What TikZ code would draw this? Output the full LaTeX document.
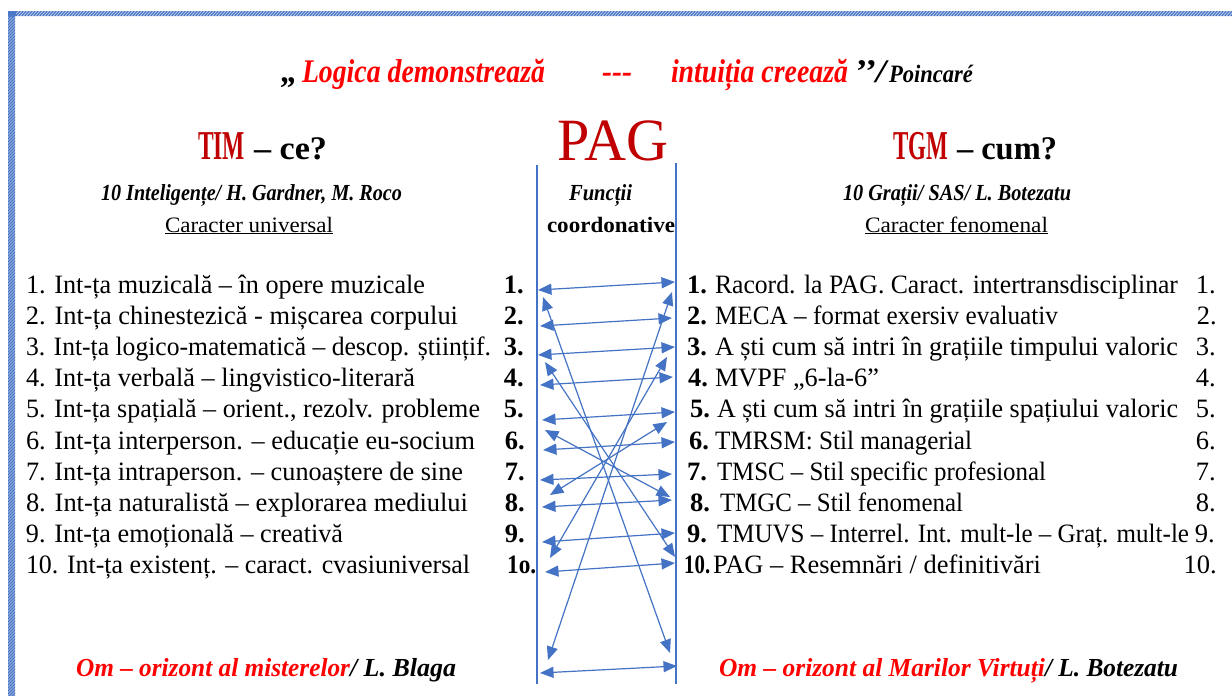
\documentclass[tikz,border=0pt]{standalone}
\usepackage{fontspec}
\setmainfont{Liberation Serif}
\usepackage{graphicx}
\usetikzlibrary{arrows.meta}

\definecolor{lineblue}{HTML}{4472C4}
\definecolor{quotered}{HTML}{FF0000}
\definecolor{headred}{HTML}{C00000}

% squeeze or stretch a text horizontally to a given width
\newcommand{\dgFit}[2]{\resizebox{#1}{\height}{#2}}

\newcommand{\dgItem}{\fontsize{26.5}{30}\selectfont}
\newcommand{\dgNum}{\fontsize{26.5}{30}\selectfont\bfseries}
\newcommand{\dgTitle}{\fontsize{33}{36}\selectfont\bfseries\itshape}
\newcommand{\dgHead}{\fontsize{41}{44}\selectfont\bfseries}
\newcommand{\dgHeadB}{\fontsize{33}{36}\selectfont\bfseries}
\newcommand{\dgSub}{\fontsize{23}{26}\selectfont\bfseries\itshape}
\newcommand{\dgCar}{\fontsize{22}{26}\selectfont}
\newcommand{\dgFoot}{\fontsize{26}{30}\selectfont\bfseries\itshape}

\begin{document}
\begin{tikzpicture}[x=1pt,y=-1pt,
  txt/.style={anchor=base west,inner sep=0pt,outer sep=0pt},
  item/.style={txt,font=\dgItem},
  lnum/.style={anchor=base east,inner sep=0pt,font=\dgNum},
  rnum/.style={anchor=base west,inner sep=0pt,font=\dgNum},
  tnum/.style={anchor=base east,inner sep=0pt,font=\dgItem},
  rail/.style={draw=lineblue,line width=2pt},
  link/.style={draw=lineblue,line width=1.2pt,
    {Triangle[length=13.5pt,width=11pt]}-{Triangle[length=13.5pt,width=11pt]}}]

\useasboundingbox (0,0) rectangle (1232,696);
\fill[white] (0,0) rectangle (1232,696);

% hatched page frame (top and left)
\begin{scope}
  \clip (8,11) rectangle (1232,16) (8,11) rectangle (15,696);
  \fill[lineblue!35] (8,11) rectangle (1232,16);
  \fill[lineblue!35] (8,11) rectangle (15,696);
  \foreach \i in {0,3,...,1236}
    \draw[lineblue,line width=1.1pt] (\i,17) -- (\i+6,10);
  \foreach \j in {8,11,...,700}
    \draw[lineblue,line width=1.1pt] (7,\j+6) -- (16,\j-3);
\end{scope}

% motto
\node[txt,font=\dgTitle] (q1) at (281,82) {„};
\node[txt,font=\dgTitle,text=quotered] (q2) at (302,82) {\dgFit{243pt}{Logica demonstrează}};
\node[txt,font=\dgTitle,text=quotered] (q3) at (602,82) {\dgFit{30pt}{-{}-{}-}};
\node[txt,font=\dgTitle,text=quotered] (q4) at (671,82) {\dgFit{177pt}{intuiția creează}};
\node[txt,font=\dgTitle] (q5) at (854,82) {\dgFit{32pt}{’’/}};
\node[txt,font=\fontsize{25}{30}\selectfont\bfseries\itshape] (q6) at (889,82) {\dgFit{84pt}{Poincaré}};

% column headings
\node[txt,font=\dgHead,text=headred] (tim) at (198,159) {\dgFit{47pt}{TIM}};
\node[txt,font=\dgHeadB] (timq) at (254,159) {\dgFit{73pt}{– ce?}};
\node[txt,font=\dgHead,text=headred] (tgm) at (893,159) {\dgFit{55pt}{TGM}};
\node[txt,font=\dgHeadB] (tgmq) at (957,159) {\dgFit{100pt}{– cum?}};
\node[txt,font=\fontsize{60}{64}\selectfont,text=headred] (pag) at (557,160) {\dgFit{111pt}{PAG}};

\node[txt,font=\dgSub] (subl) at (101,200) {\dgFit{301pt}{10 Inteligențe/ H. Gardner, M. Roco}};
\node[txt,font=\dgSub] (subr) at (843,200) {\dgFit{228pt}{10 Grații/ SAS/ L. Botezatu}};
\node[txt,font=\dgSub] (func) at (569,200) {\dgFit{63pt}{Funcții}};

\node[txt,font=\dgCar] (carl) at (165,232) {\dgFit{168pt}{\underline{Caracter universal}}};
\node[txt,font=\dgCar] (carr) at (865,232) {\dgFit{183pt}{\underline{Caracter fenomenal}}};
\node[txt,font=\dgCar\bfseries] (coord) at (547,232) {\dgFit{128pt}{coordonative}};

% left list: intelligences
\node[item] (l1)  at (26,293) {\dgFit{399pt}{1. Int-ța muzicală – în opere muzicale}};
\node[item] (l2)  at (26,324) {\dgFit{432pt}{2. Int-ța chinestezică - mișcarea corpului}};
\node[item] (l3)  at (26,355) {\dgFit{465pt}{3. Int-ța logico-matematică – descop. științif.}};
\node[item] (l4)  at (26,386) {\dgFit{389pt}{4. Int-ța verbală – lingvistico-literară}};
\node[item] (l5)  at (26,417) {\dgFit{454pt}{5. Int-ța spațială – orient., rezolv. probleme}};
\node[item] (l6)  at (26,449) {\dgFit{449pt}{6. Int-ța interperson. – educație eu-socium}};
\node[item] (l7)  at (26,480) {\dgFit{437pt}{7. Int-ța intraperson. – cunoaștere de sine}};
\node[item] (l8)  at (26,511) {\dgFit{442pt}{8. Int-ța naturalistă – explorarea mediului}};
\node[item] (l9)  at (26,542) {\dgFit{317pt}{9. Int-ța emoțională – creativă}};
\node[item] (l10) at (26,573) {\dgFit{444pt}{10. Int-ța existenț. – caract. cvasiuniversal}};

\node[lnum] (ln1) at (524,293) {1.};
\node[lnum] (ln2) at (524,324) {2.};
\node[lnum] (ln3) at (524,355) {3.};
\node[lnum] (ln4) at (524,386) {4.};
\node[lnum] (ln5) at (524,417) {5.};
\node[lnum] (ln6) at (525,449) {6.};
\node[lnum] (ln7) at (525,480) {7.};
\node[lnum] (ln8) at (525,511) {8.};
\node[lnum] (ln9) at (525,542) {9.};
\node[rnum] (ln10) at (507,573) {\dgFit{29pt}{1o.}};

% right list: graces
\node[rnum] (rn1)  at (687,293) {1.};
\node[rnum] (rn2)  at (687,324) {2.};
\node[rnum] (rn3)  at (687,355) {3.};
\node[rnum] (rn4)  at (688,386) {4.};
\node[rnum] (rn5)  at (690,417) {5.};
\node[rnum] (rn6)  at (689,449) {6.};
\node[rnum] (rn7)  at (687,480) {7.};
\node[rnum] (rn8)  at (690,511) {8.};
\node[rnum] (rn9)  at (687,542) {9.};
\node[rnum] (rn10) at (684,573) {\dgFit{26pt}{10.}};

\node[item] (r1)  at (715,293) {\dgFit{463pt}{Racord. la PAG. Caract. intertransdisciplinar}};
\node[item] (r2)  at (715,324) {\dgFit{343pt}{MECA – format exersiv evaluativ}};
\node[item] (r3)  at (715,355) {\dgFit{463pt}{A ști cum să intri în grațiile timpului valoric}};
\node[item] (r4)  at (715,386) {\dgFit{164pt}{MVPF „6-la-6”}};
\node[item] (r5)  at (717,417) {\dgFit{461pt}{A ști cum să intri în grațiile spațiului valoric}};
\node[item] (r6)  at (715,449) {\dgFit{257pt}{TMRSM: Stil managerial}};
\node[item] (r7)  at (717,480) {\dgFit{329pt}{TMSC – Stil specific profesional}};
\node[item] (r8)  at (720,511) {\dgFit{243pt}{TMGC – Stil fenomenal}};
\node[item] (r9)  at (717,542) {\dgFit{472pt}{TMUVS – Interrel. Int. mult-le – Graț. mult-le}};
\node[item] (r10) at (713,573) {\dgFit{328pt}{PAG – Resemnări / definitivări}};

\node[tnum] (t1)  at (1216,293) {1.};
\node[tnum] (t2)  at (1217,324) {2.};
\node[tnum] (t3)  at (1216,355) {3.};
\node[tnum] (t4)  at (1216,386) {4.};
\node[tnum] (t5)  at (1216,417) {5.};
\node[tnum] (t6)  at (1216,449) {6.};
\node[tnum] (t7)  at (1216,480) {7.};
\node[tnum] (t8)  at (1216,511) {8.};
\node[tnum] (t9)  at (1215,542) {9.};
\node[tnum] (t10) at (1217,573) {10.};

% footers
\node[txt,font=\dgFoot,text=quotered] (fl) at (76,676) {\dgFit{274pt}{Om – orizont al misterelor}};
\node[txt,font=\dgFoot] (fla) at (350,676) {\dgFit{106pt}{/ L. Blaga}};
\node[txt,font=\dgFoot,text=quotered] (fr) at (719,676) {\dgFit{326pt}{Om – orizont al Marilor Virtuți}};
\node[txt,font=\dgFoot] (fra) at (1045,676) {\dgFit{133pt}{/ L. Botezatu}};

% the two rails of the coordinating channel
\coordinate (railLt) at (537,165);
\coordinate (railLb) at (537,684);
\coordinate (railRt) at (676,163);
\coordinate (railRb) at (676,684);
\draw[rail] (railLt) -- (railLb);
\draw[rail] (railRt) -- (railRb);

% arrow end points on the rails
\coordinate (a1)  at (538,290); \coordinate (b1)  at (675,282);
\coordinate (a2)  at (540,326); \coordinate (b2)  at (672,318);
\coordinate (a3)  at (538,355); \coordinate (b3)  at (675,347);
\coordinate (a4)  at (540,385); \coordinate (b4)  at (673,377);
\coordinate (a5)  at (542,420); \coordinate (b5)  at (675,412);
\coordinate (a6)  at (543,450); \coordinate (b6)  at (675,442);
\coordinate (a7)  at (540,480); \coordinate (b7)  at (672,474);
\coordinate (a8)  at (542,507); \coordinate (b8)  at (672,500);
\coordinate (a9)  at (542,542); \coordinate (b9)  at (675,533);
\coordinate (a10) at (545,572); \coordinate (b10) at (675,563);
\coordinate (a11) at (540,673); \coordinate (b11) at (677,666);

\coordinate (d1a) at (543,297); \coordinate (d1b) at (670,653);
\coordinate (d2a) at (545,362); \coordinate (d2b) at (675,557);
\coordinate (d3a) at (672,292); \coordinate (d3b) at (548,660);
\coordinate (d4a) at (667,357); \coordinate (d4b) at (550,558);
\coordinate (d5a) at (545,430); \coordinate (d5b) at (670,497);
\coordinate (d6a) at (667,422); \coordinate (d6b) at (550,495);

% row-to-row links
\foreach \k in {1,...,11} \draw[link] (a\k) -- (b\k);
% crossing links
\foreach \k in {1,...,6} \draw[link] (d\k a) -- (d\k b);

\end{tikzpicture}
\end{document}
